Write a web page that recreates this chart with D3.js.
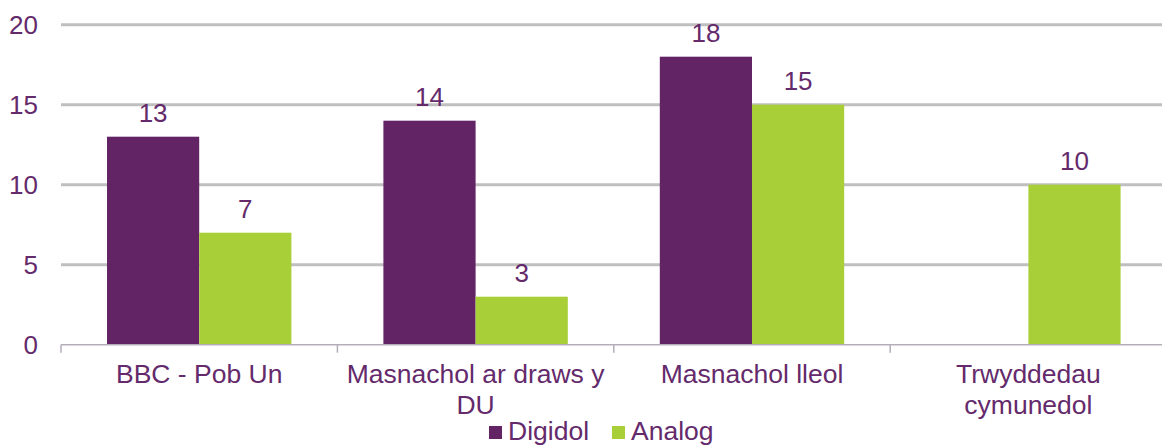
<!DOCTYPE html>
<html><head><meta charset="utf-8">
<script src="https://cdn.jsdelivr.net/npm/d3@7"></script>
<style>body{margin:0;background:#fff}svg{display:block}text{font-family:"Liberation Sans",Arial,sans-serif;fill:#642a6b}</style>
</head><body><svg id="c" width="1162" height="446"></svg>
<script>
const categories = [["BBC - Pob Un"], ["Masnachol ar draws y", "DU"], ["Masnachol lleol"], ["Trwyddedau", "cymunedol"]];
const seriesNames = ["Digidol", "Analog"];
const digidol = [13, 14, 18, null];
const analog = [7, 3, 15, 10];
const yTicks = [0, 5, 10, 15, 20];
const colors = ["#632466", "#a8cf38"];

const svg = d3.select("#c");
const plotL = 61, plotR = 1166.6, plotT = 24.7, plotB = 344.7;
const x = d3.scaleBand().domain(d3.range(categories.length)).range([plotL, plotR]).paddingInner(0).paddingOuter(0);
const inner = d3.scaleBand().domain([0, 1]).range([46, x.bandwidth() - 46]);
const y = d3.scaleLinear().domain([0, 20]).range([plotB, plotT]);

// gridlines
svg.append("g").selectAll("line").data(yTicks.filter(t => t > 0)).join("line")
  .attr("x1", plotL).attr("x2", plotR).attr("y1", d => y(d)).attr("y2", d => y(d))
  .attr("stroke", "#bfbfbf").attr("stroke-width", 3);

// y labels
svg.append("g").selectAll("text").data(yTicks).join("text")
  .attr("x", 38).attr("y", d => y(d) + 9).attr("text-anchor", "end")
  .attr("font-size", 26).text(d => d);

const series = [digidol, analog];
series.forEach((vals, s) => {
  const g = svg.append("g");
  const data = vals.map((v, i) => ({v, i})).filter(d => d.v != null);
  g.selectAll("rect").data(data).join("rect")
    .attr("x", d => x(d.i) + inner(s)).attr("width", inner.bandwidth())
    .attr("y", d => y(d.v)).attr("height", d => y(0) - y(d.v))
    .attr("fill", colors[s]);
  g.selectAll("text").data(data).join("text")
    .attr("x", d => x(d.i) + inner(s) + inner.bandwidth() / 2)
    .attr("y", d => y(d.v) - 15).attr("text-anchor", "middle")
    .attr("font-size", 26).text(d => d.v);
});

// x axis
svg.append("line").attr("x1", plotL).attr("x2", plotR).attr("y1", plotB).attr("y2", plotB)
  .attr("stroke", "#b4aebb").attr("stroke-width", 1.5);
svg.append("g").selectAll("line").data(d3.range(categories.length + 1)).join("line")
  .attr("x1", d => plotL + d * x.step()).attr("x2", d => plotL + d * x.step())
  .attr("y1", plotB).attr("y2", plotB + 8).attr("stroke", "#b4aebb").attr("stroke-width", 1.5);

const cl = svg.append("g").selectAll("text").data(categories).join("text")
  .attr("text-anchor", "middle").attr("font-size", 26.5)
  .attr("x", (d, i) => x(i) + x.bandwidth() / 2).attr("y", 383);
cl.selectAll("tspan").data(d => d).join("tspan")
  .attr("x", function() { return this.parentNode.getAttribute("x"); })
  .attr("dy", (d, i) => i === 0 ? 0 : 31).text(d => d);

// legend
const legX = [489, 612];
seriesNames.forEach((n, i) => {
  svg.append("rect").attr("x", legX[i]).attr("y", 426).attr("width", 13).attr("height", 13).attr("fill", colors[i]);
  svg.append("text").attr("x", legX[i] + 19).attr("y", 440).attr("font-size", 26.5).text(n);
});
</script></body></html>
